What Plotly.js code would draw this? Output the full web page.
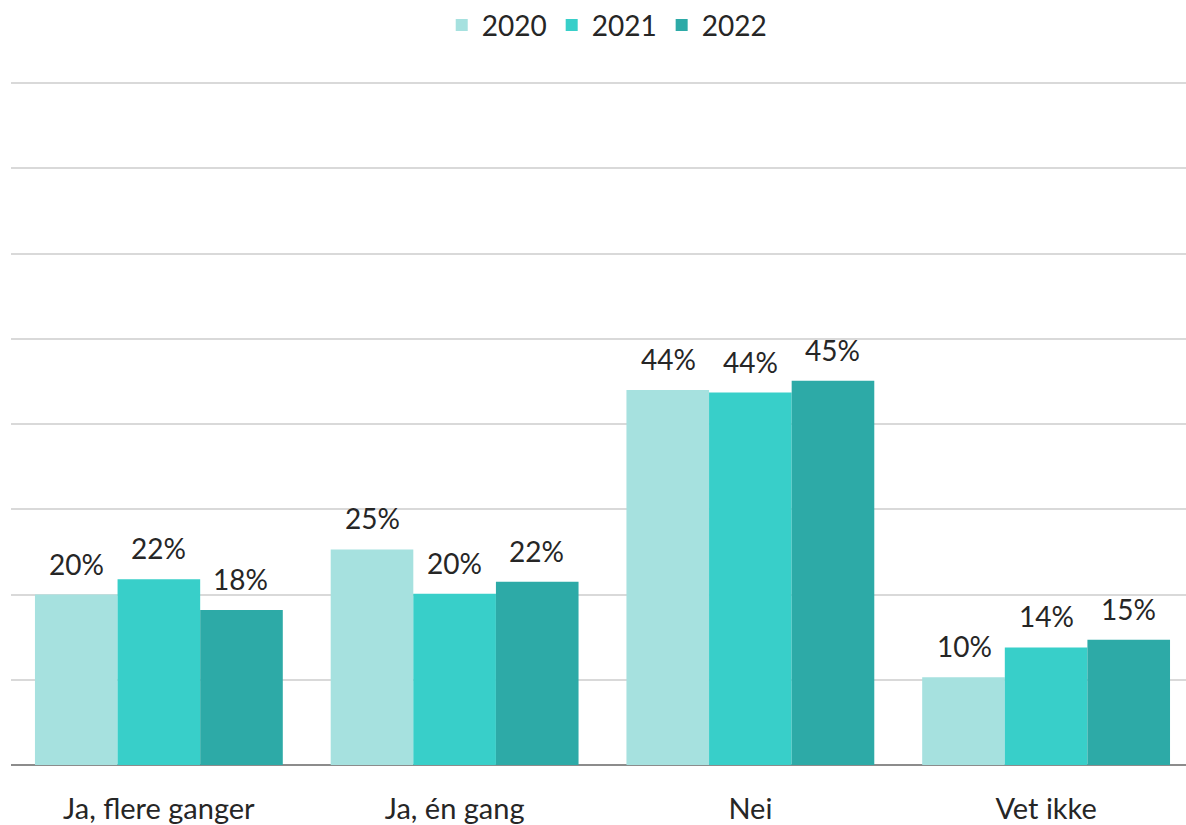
<!DOCTYPE html>
<html><head><meta charset="utf-8">
<script src="https://cdn.plot.ly/plotly-3.0.1.min.js"></script>
<style>html,body{margin:0;padding:0;background:#fff}#chart{width:1186px;height:825px}</style>
</head><body><div id="chart"></div>
<script>
const categories = ["Ja, flere ganger", "Ja, én gang", "Nei", "Vet ikke"];
const seriesNames = ["2020", "2021", "2022"];
const values2020 = [20.0, 25.3, 44.0, 10.3];
const values2021 = [21.8, 20.1, 43.7, 13.8];
const values2022 = [18.2, 21.5, 45.1, 14.7];
const labels2020 = ["20%", "25%", "44%", "10%"];
const labels2021 = ["22%", "20%", "44%", "14%"];
const labels2022 = ["18%", "22%", "45%", "15%"];
const colors = ["#A6E1DF", "#38CFC9", "#2DAAA7"];

const allValues = [values2020, values2021, values2022];
const allLabels = [labels2020, labels2021, labels2022];
const FONT = "Lato, 'Open Sans', sans-serif";

const traces = allValues.map((v, i) => ({
  type: "bar", name: seriesNames[i], x: categories, y: v,
  marker: {color: colors[i], line: {width: 0}},
  hoverinfo: "skip"
}));

const barPx = 82;
const annotations = [];
allValues.forEach((v, i) => {
  v.forEach((val, j) => {
    annotations.push({
      x: categories[j], y: val, xref: "x", yref: "y",
      text: allLabels[i][j], showarrow: false,
      xshift: (i - 1) * barPx, yanchor: "bottom", yshift: 12,
      font: {family: FONT, size: 28, color: "#262626"}
    });
  });
});

const layout = {
  width: 1186, height: 825,
  margin: {l: 11, r: 0, t: 80, b: 60},
  paper_bgcolor: "#fff", plot_bgcolor: "#fff",
  barmode: "group", bargap: 0.162, bargroupgap: 0,
  font: {family: FONT, color: "#262626"},
  showlegend: true,
  legend: {orientation: "h", x: 0.507, xanchor: "center", y: 1.083, yanchor: "middle",
           font: {family: FONT, size: 28, color: "#262626"}, itemwidth: 30, traceorder: "normal"},
  xaxis: {type: "category", range: [-0.5, 3.473], showgrid: false, zeroline: false,
          showline: false, ticks: "", ticklabelstandoff: 24,
          tickfont: {family: FONT, size: 29, color: "#262626"}, fixedrange: true},
  yaxis: {range: [0, 80.15], dtick: 10, showgrid: true, gridcolor: "#D9D9D9", gridwidth: 2,
          showticklabels: false, zeroline: true, zerolinecolor: "#8C8C8C", zerolinewidth: 2,
          showline: false, fixedrange: true},
  annotations: annotations
};

Plotly.newPlot("chart", traces, layout, {displayModeBar: false, staticPlot: true});
</script></body></html>
